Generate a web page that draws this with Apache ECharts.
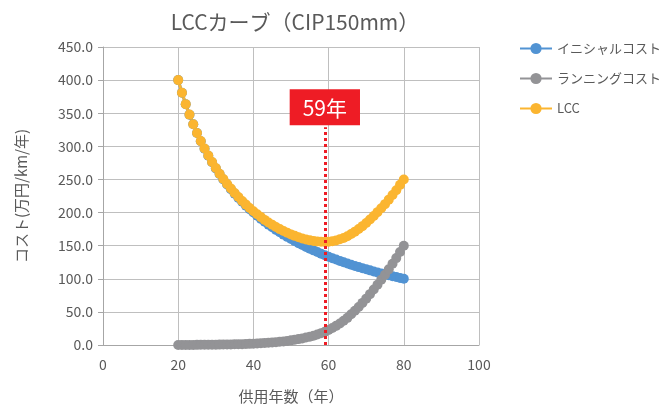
<!DOCTYPE html>
<html><head><meta charset="utf-8">
<script src="https://cdn.jsdelivr.net/npm/echarts@6/dist/echarts.min.js"></script>
<style>html,body{margin:0;padding:0;background:#fff}#c{width:668px;height:405px}</style>
</head><body><div id="c"></div>
<script>
const years = [20,21,22,23,24,25,26,27,28,29,30,31,32,33,34,35,36,37,38,39,40,41,42,43,44,45,46,47,48,49,50,51,52,53,54,55,56,57,58,59,60,61,62,63,64,65,66,67,68,69,70,71,72,73,74,75,76,77,78,79,80];
const initialCost = [400.0,381.0,363.6,347.8,333.3,320.0,307.7,296.3,285.7,275.9,266.7,258.1,250.0,242.4,235.3,228.6,222.2,216.2,210.5,205.1,200.0,195.1,190.5,186.0,181.8,177.8,173.9,170.2,166.7,163.3,160.0,156.9,153.8,150.9,148.1,145.5,142.9,140.4,137.9,135.6,133.3,131.1,129.0,127.0,125.0,123.1,121.2,119.4,117.6,115.9,114.3,112.7,111.1,109.6,108.1,106.7,105.3,103.9,102.6,101.3,100.0];
const runningCost = [0.0,0.02,0.05,0.08,0.12,0.2,0.25,0.3,0.35,0.42,0.5,0.58,0.66,0.76,0.87,1.0,1.15,1.3,1.5,1.75,2.0,2.3,2.6,2.9,3.3,3.8,4.3,4.8,5.4,6.2,7.0,7.9,8.9,10.0,11.2,12.5,14.1,15.9,17.9,20.1,22.6,25.6,28.9,32.6,36.6,41.0,46.3,51.8,57.5,63.6,70.0,76.8,83.8,91.0,98.4,106.0,114.2,122.6,131.2,140.5,150.0];
const lcc = [400.0,381.0,363.7,347.9,333.4,320.2,307.9,296.6,286.1,276.3,267.2,258.7,250.7,243.2,236.2,229.6,223.4,217.5,212.0,206.9,202.0,197.4,193.1,188.9,185.1,181.6,178.2,175.0,172.1,169.5,167.0,164.8,162.7,160.9,159.3,158.0,157.0,156.3,155.8,155.7,155.9,156.7,157.9,159.6,161.6,164.1,167.5,171.2,175.1,179.5,184.3,189.5,194.9,200.6,206.5,212.7,219.5,226.5,233.8,241.8,250.0];
const seriesNames = ['イニシャルコスト','ランニングコスト','LCC'];
const optimumYear = 59;
const optimumLabel = '59年';
const markTop = 329;

const FONT = '"Noto Sans CJK JP", "Noto Sans", sans-serif';
const TXT = '#595959';
const pairs = arr => years.map((y,i)=>[y,arr[i]]);
const colors = ['#5193D3','#939396','#FBB530'];

const chart = echarts.init(document.getElementById('c'), null, {renderer:'canvas'});
const mk = (name, data, color, extra) => Object.assign({
  name, type:'line', data: pairs(data), symbol:'circle', symbolSize:10,
  lineStyle:{color, width:3}, itemStyle:{color}, animation:false
}, extra||{});

chart.setOption({
  animation:false,
  textStyle:{fontFamily:FONT},
  title:{text:'LCCカーブ（CIP150mm）', left:290, top:7, textAlign:'center',
    textStyle:{fontFamily:FONT, fontSize:21, fontWeight:'normal', color:TXT}},
  legend:{orient:'vertical', left:514, top:37, itemWidth:32, itemHeight:14, itemGap:17,
    textStyle:{fontFamily:FONT, fontSize:13, color:TXT}, data:seriesNames},
  grid:{left:103, right:189, top:47, bottom:60, containLabel:false, outerBoundsMode:'none'},
  xAxis:{type:'value', min:0, max:100, interval:20,
    name:'供用年数（年）', nameLocation:'middle', nameGap:44,
    nameTextStyle:{fontFamily:FONT, fontSize:15, color:TXT},
    axisLine:{show:true, lineStyle:{color:'#a6a6a6'}}, axisTick:{show:false},
    axisLabel:{fontFamily:FONT, fontSize:14, color:TXT, margin:13},
    splitLine:{show:true, lineStyle:{color:'#bfbfbf', width:1}}},
  yAxis:{type:'value', min:0, max:450, interval:50,
    name:'コスト(万円/km/年)', nameLocation:'middle', nameGap:74,
    nameTextStyle:{fontFamily:FONT, fontSize:15, color:TXT},
    axisLine:{show:true, lineStyle:{color:'#a6a6a6'}}, axisTick:{show:true, length:5, lineStyle:{color:'#a6a6a6'}},
    axisLabel:{fontFamily:FONT, fontSize:14, color:TXT, margin:10, formatter:v=>v.toFixed(1)},
    splitLine:{show:true, lineStyle:{color:'#bfbfbf', width:1}}},
  series:[
    mk(seriesNames[0], initialCost, colors[0]),
    mk(seriesNames[1], runningCost, colors[1]),
    mk(seriesNames[2], lcc, colors[2], {
      markLine:{silent:true, symbol:['none','none'], animation:false,
        lineStyle:{color:'#EE1C25', type:[3,3], width:3},
        label:{show:true, position:'end', formatter:optimumLabel, distance:2,
          backgroundColor:'#EE1C25', color:'#fff', fontFamily:FONT, fontSize:21, fontWeight:'normal',
          padding:[8,13,7,13]},
        data:[[{coord:[optimumYear,0]},{coord:[optimumYear,markTop]}]]}
    })
  ]
});
</script></body></html>
